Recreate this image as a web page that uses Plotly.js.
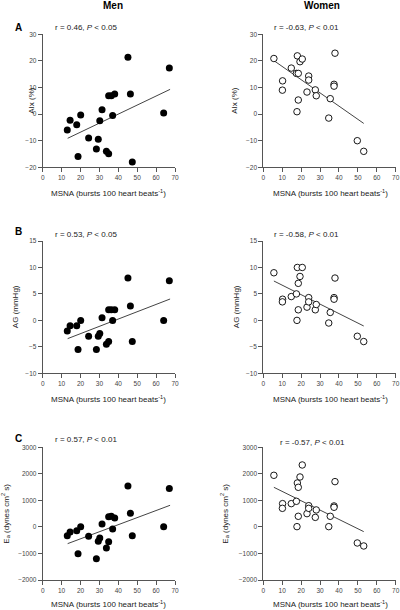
<!DOCTYPE html>
<html>
<head>
<meta charset="utf-8">
<script src="https://cdn.plot.ly/plotly-3.0.1.min.js"></script>
<style>html,body{margin:0;padding:0;background:#fff;}#chart{width:400px;height:610px;}</style>
</head>
<body>
<div id="chart"></div>
<script>
// ---- data ----
const menMSNA = [13.0,14.5,18.0,18.7,20.1,24.3,28.4,29.4,30.2,31.4,33.7,34.9,34.9,36.3,37.0,38.1,45.1,46.4,47.4,64.0,67.0];
const menAIx  = [-6.0,-2.3,-4.0,-15.9,-0.3,-9.0,-13.1,-9.5,-2.5,1.6,-14.0,-14.9,6.9,6.9,-0.5,7.6,21.4,7.6,-18.0,0.4,17.3];
const menAG   = [-2.0,-1.0,-1.0,-5.5,0.0,-3.0,-5.5,-3.0,-2.5,0.5,-4.5,-4.0,2.0,2.0,0.0,2.0,8.0,2.7,-4.0,0.0,7.5];
const menEa   = [-330,-190,-140,-1007,10,-353,-1195,-540,-416,111,-793,-555,380,400,-77,337,1543,513,-328,10,1443];

const womenMSNA = [5.6,10.2,10.1,14.8,17.5,17.8,18.0,18.5,18.5,19.4,20.6,23.1,24.0,24.0,27.5,28.0,34.6,35.4,37.4,37.4,37.9,49.7,53.1];
const womenAIx  = [20.9,12.5,9.0,17.3,15.3,0.9,21.9,15.3,5.3,19.7,20.7,8.3,14.3,12.8,9.1,6.9,-1.5,5.8,11.2,10.5,22.9,-10.0,-14.0];
const womenAG   = [9.0,4.0,3.5,4.5,5.0,0.0,10.0,7.0,2.0,8.3,10.0,2.5,4.3,3.5,2.0,3.0,-0.5,1.5,4.3,4.0,8.0,-3.0,-4.0];
const womenEa   = [1945,877,700,877,965,10,1656,1493,400,1882,2334,500,800,700,360,640,10,400,790,740,1706,-605,-718];

// regression line end points
const menLineX = [13.2, 67.4];
const menLineAIx = [-9.1, 9.3];
const menLineAG = [-3.45, 4.04];
const menLineEa = [-630, 815];
const womenLineX = [5.6, 53.1];
const womenLineAIx = [20.1, -3.5];
const womenLineAG = [7.44, -1.06];
const womenLineEa = [1493, -178];

const xTicks = [0,10,20,30,40,50,60,70];
const aixTicks = [-20,-10,0,10,20,30];
const agTicks = [-10,-5,0,5,10,15];
const eaTicks = [-2000,-1000,0,1000,2000,3000];

const colTitles = ['Men','Women'];
const panelLetters = ['A','B','C'];
const stats = [
  ['r = 0.46, <i>P</i> < 0.05','r = -0.63, <i>P</i> < 0.01'],
  ['r = 0.53, <i>P</i> < 0.05','r = -0.58, <i>P</i> < 0.01'],
  ['r = 0.57, <i>P</i> < 0.01','r = -0.57, <i>P</i> < 0.01']
];
const yTitles = ['AIx (%)','AG (mmHg)','E<sub>a</sub> (dynes cm<sup>2</sup> s)'];
const xTitle = 'MSNA (bursts 100 heart beats<sup>-1</sup>)';

// ---- layout geometry (pixels) ----
const W = 400, H = 610;
const colPx = [[42.7,175],[263.3,395.7]];
const rowPx = [[34.3,167.3],[241,373.3],[447.3,580]];
const px = x => x / W;
const py = y => 1 - y / H;
const FONT = 'Arial, "Liberation Sans", sans-serif';

const menY = [menAIx, menAG, menEa];
const womenY = [womenAIx, womenAG, womenEa];
const menLines = [menLineAIx, menLineAG, menLineEa];
const womenLines = [womenLineAIx, womenLineAG, womenLineEa];
const yRanges = [[-20,30],[-10,15],[-2000,3000]];
const yTickSets = [aixTicks, agTicks, eaTicks];

const traces = [];
const layout = {
  width: W, height: H,
  margin: {l:0,r:0,t:0,b:0},
  paper_bgcolor:'#fff', plot_bgcolor:'#fff',
  showlegend:false,
  font:{family:FONT, size:8, color:'#222'},
  annotations:[]
};

function axisCommon(){
  return {
    showline:true, linecolor:'#555', linewidth:1,
    ticks:'outside', ticklen:4, tickwidth:1, tickcolor:'#555',
    showgrid:false, zeroline:false,
    tickfont:{family:FONT, size:6.5, color:'#444'},
    fixedrange:true
  };
}

let k = 0;
for (let r = 0; r < 3; r++) {
  for (let c = 0; c < 2; c++) {
    k++;
    const xa = k === 1 ? 'x' : 'x' + k;
    const ya = k === 1 ? 'y' : 'y' + k;
    const xKey = k === 1 ? 'xaxis' : 'xaxis' + k;
    const yKey = k === 1 ? 'yaxis' : 'yaxis' + k;
    const isMen = c === 0;
    const lx = isMen ? menLineX : womenLineX;
    const ly = isMen ? menLines[r] : womenLines[r];
    traces.push({
      x: lx, y: ly, xaxis: xa, yaxis: ya, type:'scatter', mode:'lines',
      line:{color:'#444', width:1}, hoverinfo:'skip'
    });
    traces.push({
      x: isMen ? menMSNA : womenMSNA,
      y: isMen ? menY[r] : womenY[r],
      xaxis: xa, yaxis: ya, type:'scatter', mode:'markers',
      marker: isMen
        ? {symbol:'circle', size:7, color:'#000', line:{width:0}}
        : {symbol:'circle', size:6.5, color:'#fff', line:{color:'#000', width:0.9}}
    });
    layout[xKey] = Object.assign(axisCommon(), {
      domain:[px(colPx[c][0]), px(colPx[c][1])],
      range:[0,70], tickvals:xTicks, anchor: ya
    });
    layout[yKey] = Object.assign(axisCommon(), {
      domain:[py(rowPx[r][1]), py(rowPx[r][0])],
      range:yRanges[r], tickvals:yTickSets[r], anchor: xa
    });
  }
}

// column titles
const colTitleX = [113, 321.7];
colTitles.forEach((t,i)=>{
  layout.annotations.push({text:t, x:px(colTitleX[i]), y:py(5), xref:'paper', yref:'paper',
    xanchor:'center', yanchor:'middle', showarrow:false, font:{family:FONT,size:10,color:'#000',weight:700}});
});
// panel letters
const letterY = [27, 232, 438];
panelLetters.forEach((t,i)=>{
  layout.annotations.push({text:t, x:px(18), y:py(letterY[i]), xref:'paper', yref:'paper',
    xanchor:'center', yanchor:'middle', showarrow:false, font:{family:FONT,size:10,color:'#000',weight:700}});
});
// statistics text
const statPos = [[[53,28],[271.7,28]],[[53,234],[272,234]],[[53,439],[277.7,442.7]]];
stats.forEach((row,r)=>row.forEach((t,c)=>{
  layout.annotations.push({text:t, x:px(statPos[r][c][0]), y:py(statPos[r][c][1]), xref:'paper', yref:'paper',
    xanchor:'left', yanchor:'middle', showarrow:false, font:{family:FONT,size:8,color:'#222'}});
}));
// y titles
const yTitleX = [[32,235],[15,236],[6,225]];
for (let r=0;r<3;r++) for (let c=0;c<2;c++){
  layout.annotations.push({text:yTitles[r], x:px(yTitleX[r][c]), y:py((rowPx[r][0]+rowPx[r][1])/2),
    xref:'paper', yref:'paper', xanchor:'center', yanchor:'middle', textangle:-90, showarrow:false,
    font:{family:FONT,size:8,color:'#222'}});
}
// x titles
const xTitleY = [193.3, 399, 604];
const xTitleX = [108, 330];
for (let r=0;r<3;r++) for (let c=0;c<2;c++){
  layout.annotations.push({text:xTitle, x:px(xTitleX[c]), y:py(xTitleY[r]), xref:'paper', yref:'paper',
    xanchor:'center', yanchor:'middle', showarrow:false, font:{family:FONT,size:8,color:'#222'}});
}

Plotly.newPlot('chart', traces, layout, {staticPlot:true, displayModeBar:false});
</script>
</body>
</html>
